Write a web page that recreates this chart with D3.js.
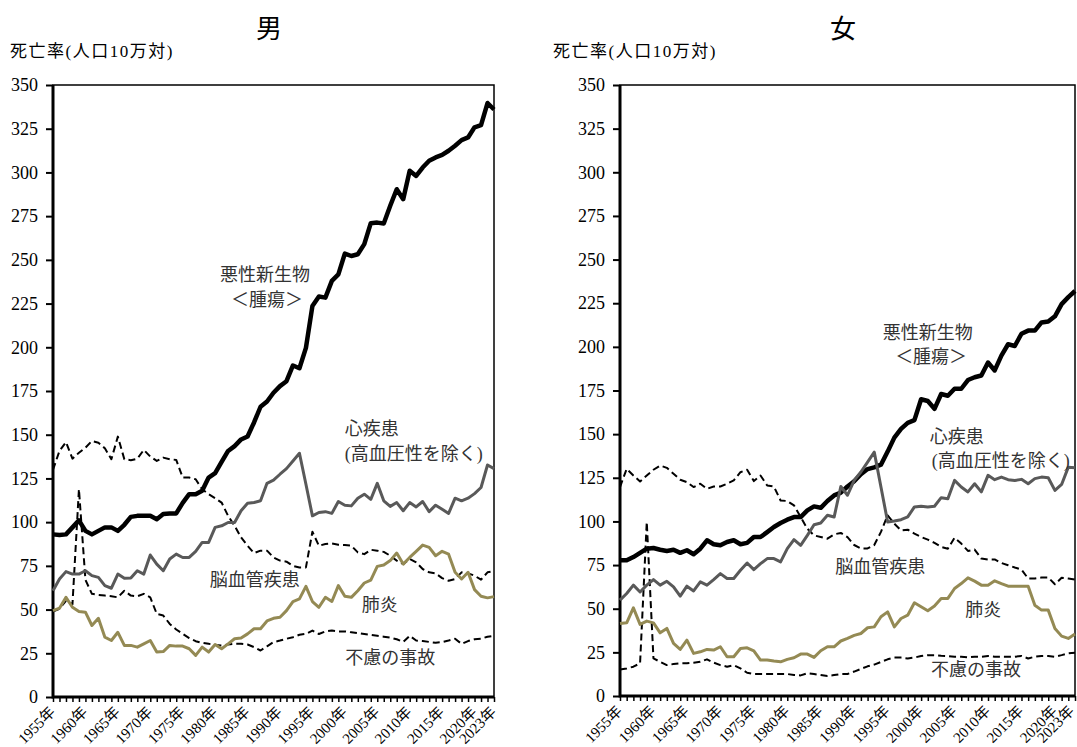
<!DOCTYPE html>
<html>
<head>
<meta charset="utf-8">
<script src="https://cdn.jsdelivr.net/npm/d3@7"></script>
<style>
  body { margin: 0; background: #fff; }
  text { font-family: "Liberation Serif", "Noto Sans CJK JP", serif; }
</style>
</head>
<body>
<svg id="chart" width="1077" height="747"></svg>
<script>
// DATA

const years = d3.range(1955, 2024);
const yTicks = d3.range(0, 351, 25);
const xLabelYears = [1955, 1960, 1965, 1970, 1975, 1980, 1985, 1990, 1995, 2000, 2005, 2010, 2015, 2020, 2023];

// 男
const maleCancer = [93, 92.6, 93, 97, 101, 95, 93, 95, 97, 97, 95, 98.5, 103, 103.6, 103.6, 103.6, 101.7, 104.6, 105, 105,
  111, 116, 116, 118, 125.5, 128, 134.4, 140.7, 143.5, 147.3, 149, 157, 166, 169,
  174, 177.8, 180.6, 189.6, 188, 199.7, 223.6, 229, 228.4, 238, 241.7, 253.6, 252.2, 253.2, 259, 271, 271.3, 270.8,
  280.9, 290.4, 284.7, 301, 298, 302.8, 306.7, 308.6, 310, 312.4, 315.3, 318.5, 320, 325.8, 327, 339.7, 336];
const maleHeart = [60.8, 67.5, 71.7, 70.3, 70.3, 72.2, 69.4, 68.4, 63.7, 62.2, 70.3, 67.9, 68, 72.2, 70.3, 81.2, 76, 72.2,
  78.9, 81.7, 79.8, 79.8, 83.3, 88.4, 88.4, 97, 97.9, 99.8, 99.8, 106.5, 110.8, 111.2, 112.2, 122.2,
  124, 127.4, 130.6, 135, 139.4, 121.7, 103.6, 105.5, 106, 105, 111.8, 109.7, 109.3, 113.7, 116, 113, 122.2, 112.2,
  109, 111.2, 106.5, 111.2, 108.7, 111.8, 106, 109.7, 107.4, 105, 113.7, 112.2, 113.7, 116.3, 119.8, 132.7, 130.6];
const maleStroke = [130, 140.7, 145.8, 136.3, 139.7, 142.6, 146.4, 145.4, 142.2, 136, 148.9, 136, 135.4, 136.3, 141.3, 137.5,
  135, 136.9, 136, 135.6, 125.5, 125.5, 124.5, 118.8, 116, 113.7, 111.2, 103.6, 97.9, 91.3, 86.5, 82.3, 83.7, 83.7,
  79.8, 78, 77.4, 75, 74.1, 74.1, 94.5, 86.5, 87.5, 87.8, 87.1, 86.9, 86.5, 82.7, 81.7, 84.2, 83.7, 83,
  80.8, 78, 76, 78.9, 77, 73.2, 71.3, 70.7, 68, 66.5, 67.5, 71.3, 70.7, 69.4, 67.1, 71.3, 71.9];
const malePneumonia = [49.4, 50.8, 57, 51.3, 48.9, 48.5, 40.9, 45, 34.2, 32.3, 37, 29.5, 29.5, 28.5, 30.4, 32.3, 25.7, 26,
  29.5, 29.1, 29.1, 27.6, 23.8, 28.5, 25.7, 30, 27.6, 30.4, 33.3, 33.7, 36.1, 39, 39, 43.5,
  45, 45.6, 49.4, 54.6, 56.1, 63.3, 54.6, 51.3, 57, 54.6, 63.7, 57.6, 57, 60.8, 65.2, 66.9, 74.7, 75.5,
  78, 82.3, 76, 79.8, 83.3, 86.9, 85.6, 80.8, 83.3, 81.7, 71.3, 67.5, 71.3, 61.4, 57.6, 56.7, 57.4];
const maleAccident = [48.9, 50.5, 55, 53, 118.8, 67, 59, 58.4, 58, 57.6, 57, 60.8, 58, 57.6, 59, 57, 47.5, 46.6,
  41.8, 38.6, 36.1, 33.7, 31.9, 31, 30.4, 29.8, 29.5, 30, 30.4, 30.4, 30, 28.5, 26.6, 29,
  31.4, 32.3, 33.3, 34.2, 35.6, 36.1, 38, 36, 37.5, 38, 37.5, 37.5, 37, 36.5, 36, 35.5, 35, 34.5,
  34, 33, 31.5, 35, 32.3, 32, 31.5, 31, 31.4, 32.3, 33.3, 30.4, 32, 33, 33.3, 34.5, 35];

// 女
const femaleCancer = [77.7, 77.7, 79.6, 82, 84.4, 84.8, 83.8, 83.1, 83.8, 82, 83.5, 81.2, 84.4, 89.2, 86.9, 86.3, 88.2, 89.2,
  86.9, 87.7, 91.1, 91.1, 93.9, 96.8, 99.1, 101, 102.5, 102.5, 106.3, 108.6, 107.8, 111.7, 114.9, 116.5,
  120, 123, 127, 130, 131, 132.5, 140, 148, 153, 156.5, 158, 170, 169, 164.5, 173, 172, 176, 176,
  181, 182.6, 183.6, 191, 186.5, 195, 201.5, 200.5, 207.5, 209.3, 209.3, 214, 214.5, 217.5, 224.5, 228.5, 232];
const femaleHeart = [54.9, 58.7, 63.5, 59.6, 63.5, 66.7, 63.5, 65.7, 62.5, 57.2, 62.9, 60.2, 65.4, 63.5, 66.7, 70.1, 67.3, 67.3,
  72, 76.2, 72.4, 75.8, 78.7, 78.7, 76.8, 84.4, 89.6, 86.3, 92, 98.1, 99.1, 103.5, 102.5, 120,
  115, 123.5, 128.3, 134, 139.7, 119.7, 99.7, 100.3, 101, 102.6, 108.3, 108.7, 108.3, 108.7, 113.6, 113, 123.5, 119.7,
  116.9, 121.6, 116.9, 126.4, 123.9, 125.4, 123.9, 123.5, 124.1, 121.6, 124.5, 125.4, 125, 117.8, 121.2, 131.1, 130.8];
const femaleStroke = [119.7, 130.1, 126.3, 122.9, 126.3, 129.6, 132, 130.7, 127.3, 123.9, 122.5, 119.7, 121.6, 118.7, 120, 120,
  121.6, 123.5, 128.2, 129.6, 123.1, 126.3, 120.6, 120, 112, 111.7, 109.2, 102.5, 95.8, 92, 91.1, 90.1, 92.6, 93.4,
  91, 86.5, 84.5, 84.5, 86.5, 94, 103.5, 98.7, 94.9, 95.3, 93, 91.1, 89.6, 87.7, 85.4, 84.4, 90.7, 87.3,
  83.1, 83.9, 78.7, 78.2, 78.2, 76.2, 74.9, 73.6, 72.4, 67.3, 67.3, 67.9, 67.9, 64, 67.7, 67.3, 66.7];
const femalePneumonia = [41.5, 41.9, 50.5, 41, 42.9, 41.9, 36.2, 38.7, 30.1, 26.7, 32, 24.4, 25.3, 26.7, 26.3, 28.2, 22.5, 22.5,
  27.2, 27.6, 25.9, 20.6, 20.6, 20, 19.6, 21, 21.9, 24, 24, 22.1, 25.9, 28.2, 28.2, 31.5,
  33, 34.7, 35.8, 39.1, 39.6, 45.4, 48.2, 39.6, 44.4, 46.3, 53.4, 51.1, 48.8, 51.5, 55.9, 55.9, 61.6, 64.4,
  67.7, 65.8, 63.5, 63.5, 66, 64.4, 62.9, 62.9, 62.9, 62.9, 52, 49.2, 49.2, 38.7, 34.3, 33, 35.5];
const femaleAccident = [15.2, 15.8, 16.8, 18.7, 99.7, 21.5, 19.6, 17.7, 18.3, 18.7, 18.7, 19.1, 19.6, 21, 19.1, 17.7, 16.8, 17.7,
  15.8, 13.3, 12.6, 12.6, 12.6, 12.6, 12.6, 12.6, 12, 11.8, 13, 12.6, 12, 11.4, 12, 12.6,
  12.6, 14, 15.5, 17, 18, 19.5, 21, 22, 22, 21.5, 22, 22.9, 23.4, 23.4, 23.1, 22.9, 22.5, 22.5,
  22.1, 22.5, 22.5, 22.9, 22.5, 22.5, 22.5, 22.5, 22.9, 21.5, 22.5, 22.9, 22.9, 22.5, 23.4, 24.4, 24.8];

// STYLES

const styles = {
  cancer:    { stroke: '#000', width: 4.5, dash: null },
  heart:     { stroke: '#595959', width: 3, dash: null },
  stroke:    { stroke: '#000', width: 2, dash: '7,4' },
  pneumonia: { stroke: '#948a54', width: 3, dash: null },
  accident:  { stroke: '#000', width: 2, dash: '7,4' }
};

const panels = [
  {
    title: '男', left: 53, right: 494, top: 85, bottom: 697, titleX: 269, yTitleX: 10,
    series: [
      ['stroke', maleStroke], ['accident', maleAccident], ['pneumonia', malePneumonia],
      ['heart', maleHeart], ['cancer', maleCancer]
    ],
    // [text, year, value, anchor]
    labels: [
      ['悪性新生物', 1987.7, 241.7, 'middle'],
      ['＜腫瘍＞', 1988, 227.4, 'middle'],
      ['心疾患', 2000, 153.5, 'start'],
      ['(高血圧性を除く)', 2000, 139.2, 'start'],
      ['脳血管疾患', 1986.1, 67, 'middle'],
      ['肺炎', 2005.4, 52.7, 'middle'],
      ['不慮の事故', 2007, 22.3, 'middle']
    ]
  },
  {
    title: '女', left: 620, right: 1075, top: 85, bottom: 696, titleX: 843, yTitleX: 553,
    series: [
      ['stroke', femaleStroke], ['accident', femaleAccident], ['pneumonia', femalePneumonia],
      ['cancer', femaleCancer], ['heart', femaleHeart]
    ],
    labels: [
      ['悪性新生物', 2001, 208.2, 'middle'],
      ['＜腫瘍＞', 2001.5, 194.4, 'middle'],
      ['心疾患', 2001.3, 148.7, 'start'],
      ['(高血圧性を除く)', 2001.6, 135, 'start'],
      ['脳血管疾患', 1993.9, 73.8, 'middle'],
      ['肺炎', 2009.3, 49.2, 'middle'],
      ['不慮の事故', 2008.2, 14.9, 'middle']
    ]
  }
];

// DRAW

const svg = d3.select('#chart');

const drawPanel = p => {

  const x = d3.scaleLinear().domain([1955, 2023]).range([p.left, p.right]),
        y = d3.scaleLinear().domain([0, 350]).range([p.bottom, p.top]);

  const g = svg.append('g');

  // titles
  g.append('text')
    .attr('x', p.titleX).attr('y', 38)
    .attr('text-anchor', 'middle')
    .style('font-size', '26px')
    .text(p.title);

  g.append('text')
    .attr('x', p.yTitleX).attr('y', 57)
    .style('font-size', '17px')
    .style('letter-spacing', '1.5px')
    .text('死亡率(人口10万対)');

  // y axis
  const yAxis = g.append('g')
    .attr('transform', `translate(${p.left},0)`)
    .call(d3.axisLeft(y).tickValues(yTicks).tickSize(7).tickPadding(8));
  yAxis.select('.domain').remove();
  yAxis.selectAll('line').attr('stroke', '#000').attr('stroke-width', 2);
  yAxis.selectAll('text')
    .attr('fill', '#000')
    .style('font-size', '18px')
    .style('font-family', '"Liberation Serif", serif');

  // x axis
  const xAxis = g.append('g')
    .attr('transform', `translate(0,${p.bottom})`)
    .call(d3.axisBottom(x).tickValues(years).tickSize(5).tickFormat(''));
  xAxis.select('.domain').remove();
  xAxis.selectAll('line').attr('stroke', '#000').attr('stroke-width', 1.5);

  g.selectAll('.xlabel')
    .data(xLabelYears)
    .join('text')
    .classed('xlabel', true)
    .attr('transform', d => `translate(${Math.min(x(d) + 3, 1075)},${p.bottom + 16}) rotate(-45)`)
    .attr('text-anchor', 'end')
    .style('font-size', '15px')
    .text(d => d + '年');

  // frame
  g.append('rect')
    .attr('x', p.left).attr('y', p.top)
    .attr('width', p.right - p.left).attr('height', p.bottom - p.top)
    .attr('fill', 'none').attr('stroke', '#000').attr('stroke-width', 1.5);
  g.append('path')
    .attr('d', `M${p.left},${p.top}V${p.bottom}H${p.right}`)
    .attr('fill', 'none').attr('stroke', '#000').attr('stroke-width', 3);

  // lines
  const line = d3.line()
    .x((d, i) => x(years[i]))
    .y(d => y(d));

  for (const [key, values] of p.series) {
    const s = styles[key];
    g.append('path')
      .datum(values)
      .attr('d', line)
      .attr('fill', 'none')
      .attr('stroke', s.stroke)
      .attr('stroke-width', s.width)
      .attr('stroke-linejoin', 'round')
      .attr('stroke-dasharray', s.dash);
  }

  // series labels
  g.selectAll('.label')
    .data(p.labels)
    .join('text')
    .classed('label', true)
    .attr('x', d => x(d[1]))
    .attr('y', d => y(d[2]))
    .attr('dy', '0.35em')
    .attr('text-anchor', d => d[3])
    .attr('fill', '#333')
    .style('font-size', '18px')
    .text(d => d[0]);

}

panels.forEach(drawPanel);
</script>
</body>
</html>
